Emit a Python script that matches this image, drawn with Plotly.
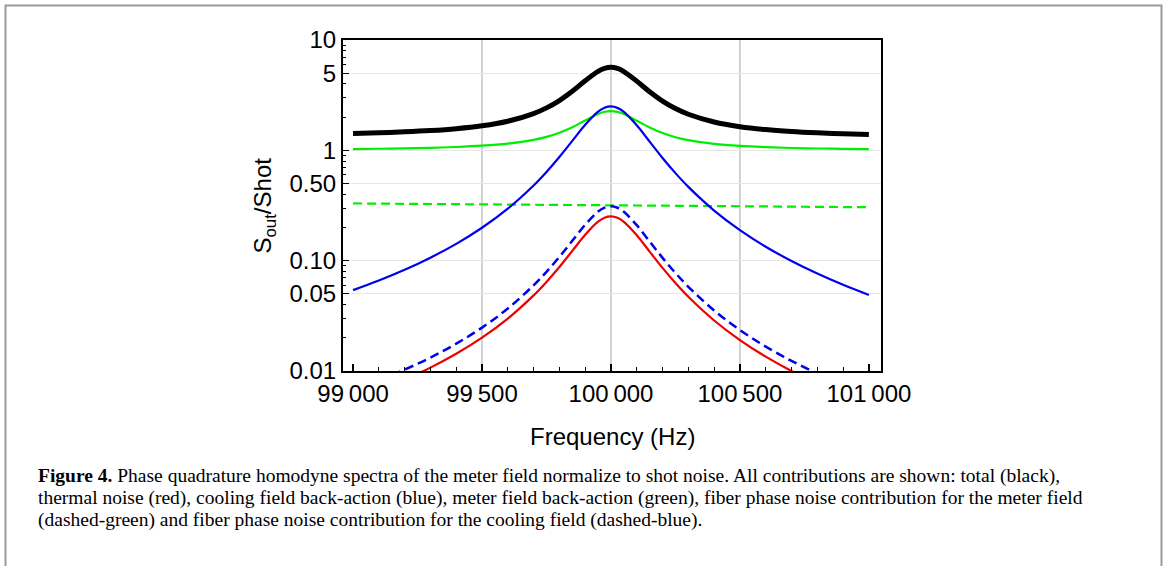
import plotly.graph_objects as go

# Frequencies (Hz)
freq = [99000, 99100, 99200, 99300, 99400, 99500, 99600, 99700, 99750, 99800, 99850, 99900, 99950, 99975,
        100000, 100025, 100050, 100100, 100150, 100200, 100250, 100300, 100400, 100500, 100600, 100700,
        100800, 100900, 101000]

thermal = [0.00545, 0.00666, 0.00834, 0.01073, 0.01432, 0.02004, 0.02985, 0.04844, 0.06422, 0.08768,
           0.12265, 0.17163, 0.22577, 0.24503, 0.252, 0.24442, 0.22465, 0.16993, 0.12083, 0.08595,
           0.06263, 0.04701, 0.02868, 0.01906, 0.01349, 0.01000, 0.00770, 0.00609, 0.00493]

cooling_ba = [0.0541, 0.0661, 0.0827, 0.1065, 0.1421, 0.1988, 0.2962, 0.4805, 0.6371, 0.8699, 1.2168,
              1.7027, 2.2398, 2.4309, 2.5, 2.4248, 2.2287, 1.6858, 1.1987, 0.8527, 0.6214, 0.4663,
              0.2846, 0.1891, 0.1338, 0.0993, 0.0764, 0.0604, 0.0489]

cooling_fiber = [0.00672, 0.00822, 0.01029, 0.01324, 0.01768, 0.02473, 0.03684, 0.05978, 0.07926,
                 0.10821, 0.15137, 0.21182, 0.27863, 0.30240, 0.311, 0.30165, 0.27725, 0.20971, 0.14912,
                 0.10607, 0.07730, 0.05801, 0.03540, 0.02352, 0.01664, 0.01235, 0.00950, 0.00751, 0.00608]

meter_ba = [1.0275, 1.0336, 1.0420, 1.0541, 1.0722, 1.1010, 1.1504, 1.2441, 1.3237, 1.4419, 1.6181,
            1.8650, 2.1378, 2.2349, 2.27, 2.2318, 2.1322, 1.8564, 1.6089, 1.4331, 1.3157, 1.2369,
            1.1446, 1.0961, 1.0680, 1.0504, 1.0388, 1.0307, 1.0248]

meter_fiber = [0.3300, 0.3288, 0.3275, 0.3263, 0.3250, 0.3238, 0.3225, 0.3213, 0.3206, 0.3200, 0.3194,
               0.3188, 0.3181, 0.3178, 0.3175, 0.3172, 0.3169, 0.3163, 0.3156, 0.3150, 0.3144, 0.3138,
               0.3125, 0.3113, 0.3100, 0.3088, 0.3075, 0.3063, 0.3050]

total = [1.4238, 1.4434, 1.4708, 1.5109, 1.5713, 1.6683, 1.8358, 2.1541, 2.4249, 2.8277, 3.4283, 4.2699,
         5.2001, 5.5310, 5.6505, 5.5199, 5.1797, 4.2381, 3.3931, 2.7928, 2.3914, 2.1220, 1.8058, 1.6391,
         1.5419, 1.4809, 1.4399, 1.4110, 1.3898]

x_tickvals = [99000, 99500, 100000, 100500, 101000]
x_ticktext = ["99\u2009000", "99\u2009500", "100\u2009000", "100\u2009500", "101\u2009000"]
x_gridvals = [99500, 100000, 100500]
y_tickvals = [0.01, 0.05, 0.1, 0.5, 1, 5, 10]
y_ticktext = ["0.01", "0.05", "0.10", "0.50", "1", "5", "10"]

caption_lines = [
    "<b>Figure 4.</b> Phase quadrature homodyne spectra of the meter field normalize to shot noise. All contributions are shown: total (black),",
    "thermal noise (red), cooling field back-action (blue), meter field back-action (green), fiber phase noise contribution for the meter field",
    "(dashed-green) and fiber phase noise contribution for the cooling field (dashed-blue).",
]

W, H = 1165, 566
L, R, T, B = 343, 881, 40, 371


def px(xp):
    return (xp - L) / (R - L)


def py(yp):
    return (B - yp) / (B - T)


SANS = "Liberation Sans, Arial"
GREEN = "#00ee00"
BLUE = "#0000ee"
RED = "#ee0000"

fig = go.Figure()
fig.add_trace(go.Scatter(x=freq, y=total, mode="lines", line=dict(color="black", width=5, shape="spline"), name="total"))
fig.add_trace(go.Scatter(x=freq, y=meter_ba, mode="lines", line=dict(color=GREEN, width=2.2, shape="spline"), name="meter BA"))
fig.add_trace(go.Scatter(x=freq, y=meter_fiber, mode="lines", line=dict(color=GREEN, width=2.2, dash="9px,5px", shape="spline"), name="meter fiber"))
fig.add_trace(go.Scatter(x=freq, y=cooling_ba, mode="lines", line=dict(color=BLUE, width=2.2, shape="spline"), name="cooling BA"))
fig.add_trace(go.Scatter(x=freq, y=cooling_fiber, mode="lines", line=dict(color=BLUE, width=2.5, dash="9px,5px", shape="spline"), name="cooling fiber"))
fig.add_trace(go.Scatter(x=freq, y=thermal, mode="lines", line=dict(color=RED, width=2.2, shape="spline"), name="thermal"))

shapes = []
for gx in x_gridvals:
    shapes.append(dict(type="line", xref="x", yref="paper", x0=gx, x1=gx, y0=0, y1=1,
                       line=dict(color="#c4c4c4", width=1.5), layer="below"))
shapes.append(dict(type="rect", xref="paper", yref="paper",
                   x0=px(5.5), x1=px(1161.5), y0=py(575), y1=py(5.5),
                   line=dict(color="#999999", width=2), layer="below"))

annotations = [
    dict(text="S<sub>out</sub>/Shot", xref="paper", yref="paper", x=px(264), y=0.5, textangle=-90,
         showarrow=False, font=dict(family=SANS, size=24, color="black"),
         xanchor="center", yanchor="middle"),
    dict(text="Frequency (Hz)", xref="paper", yref="paper", x=0.5, y=py(436),
         showarrow=False, font=dict(family=SANS, size=24, color="black"),
         xanchor="center", yanchor="middle"),
]
for i, line in enumerate(caption_lines):
    annotations.append(dict(text=line, xref="paper", yref="paper", x=px(36), y=py(476 + 22 * i),
                            showarrow=False, xanchor="left", yanchor="middle", align="left",
                            font=dict(family="Liberation Serif, Times New Roman", size=19.5, color="black")))

fig.update_layout(
    width=W, height=H,
    margin=dict(l=L, r=W - R, t=T, b=H - B, autoexpand=False),
    paper_bgcolor="white", plot_bgcolor="white",
    showlegend=False,
    shapes=shapes,
    annotations=annotations,
    xaxis=dict(range=[98961, 101047], tickvals=x_tickvals, ticktext=x_ticktext,
               showgrid=False, zeroline=False, showline=True, linecolor="black", linewidth=2, mirror=True,
               ticks="inside", ticklen=7, tickwidth=1.5, tickcolor="black",
               minor=dict(ticks="inside", ticklen=4, tickwidth=1.2, tickcolor="black", dtick=100, showgrid=False),
               tickfont=dict(family=SANS, size=24, color="black")),
    yaxis=dict(type="log", range=[-2, 1], tickvals=y_tickvals, ticktext=y_ticktext,
               showgrid=True, gridcolor="#e6e6e6", gridwidth=1.2, zeroline=False,
               showline=True, linecolor="black", linewidth=2, mirror=True,
               ticks="inside", ticklen=6, tickwidth=1.2, tickcolor="black",
               minor=dict(ticks="inside", ticklen=3, tickwidth=1, tickcolor="black", dtick="D1", showgrid=False),
               tickfont=dict(family=SANS, size=24, color="black")),
)

fig.write_html("out.html", config={"displayModeBar": False},
               post_script="document.body.style.margin='0px';")
